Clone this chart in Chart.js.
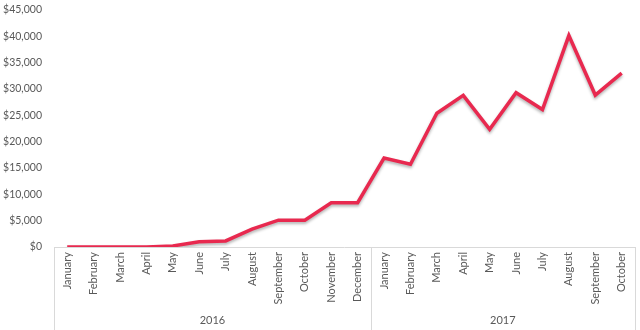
<!DOCTYPE html>
<html>
<head>
<meta charset="utf-8">
<script src="https://cdn.jsdelivr.net/npm/chart.js@4/dist/chart.umd.min.js"></script>
<style>
  html, body { margin: 0; padding: 0; background: #fff; }
  #wrap { position: relative; width: 640px; height: 330px; }
</style>
</head>
<body>
<div id="wrap"><canvas id="salesChart"></canvas></div>
<script>
const years = ['2016', '2017'];
const months2016 = ['January', 'February', 'March', 'April', 'May', 'June', 'July', 'August', 'September', 'October', 'November', 'December'];
const months2017 = ['January', 'February', 'March', 'April', 'May', 'June', 'July', 'August', 'September', 'October'];
const revenue = [0, 0, 0, 0, 200, 1000, 1150, 3400, 5100, 5100, 8400, 8400,
  16900, 15700, 25400, 28800, 22350, 29300, 26100, 40150, 28850, 33000];
const yTicks = [0, 5000, 10000, 15000, 20000, 25000, 30000, 35000, 40000, 45000];

(function () {
  const canvas = document.getElementById('salesChart');
  if (!canvas || typeof Chart === 'undefined') return;

  const labels = months2016.concat(months2017);
  const groupSizes = [months2016.length, months2017.length];
  const axisGrey = '#d9d9d9';
  const textGrey = '#595959';

  // boundaries and centres of the year groups, in category index units
  const bounds = [-0.5];
  const mids = [];
  groupSizes.forEach((n) => {
    const start = bounds[bounds.length - 1];
    mids.push(start + n / 2);
    bounds.push(start + n);
  });

  const lineShadow = {
    id: 'lineShadow',
    beforeDatasetDraw(chart) {
      const c = chart.ctx;
      c.save();
      c.shadowColor = 'rgba(0,0,0,0.3)';
      c.shadowBlur = 3;
      c.shadowOffsetY = 2;
    },
    afterDatasetDraw(chart) {
      chart.ctx.restore();
    }
  };

  const groupLines = {
    id: 'groupLines',
    afterDraw(chart) {
      const x = chart.scales.x;
      const c = chart.ctx;
      c.save();
      c.strokeStyle = axisGrey;
      c.lineWidth = 1;
      bounds.forEach((b) => {
        const px = Math.round(x.getPixelForValue(b)) + 0.5;
        c.beginPath();
        c.moveTo(px, chart.chartArea.bottom);
        c.lineTo(px, chart.height);
        c.stroke();
      });
      c.restore();
    }
  };

  new Chart(canvas.getContext('2d'), {
    type: 'line',
    data: {
      labels: labels,
      datasets: [{
        label: 'Revenue',
        data: revenue,
        borderColor: '#e8294f',
        borderWidth: 3.5,
        pointRadius: 0,
        tension: 0,
        fill: false
      }]
    },
    plugins: [lineShadow, groupLines],
    options: {
      responsive: true,
      maintainAspectRatio: false,
      animation: false,
      layout: { padding: { top: 10, right: 5, left: 0, bottom: 0 } },
      plugins: { legend: { display: false }, tooltip: { enabled: false } },
      scales: {
        x: {
          type: 'category',
          offset: true,
          afterFit: (axis) => { axis.height = 62; },
          grid: { display: false, drawTicks: false },
          border: { display: true, color: axisGrey },
          ticks: {
            color: textGrey,
            font: { family: 'Lato', size: 11 },
            minRotation: 90,
            maxRotation: 90,
            autoSkip: false,
            padding: 5
          }
        },
        year: {
          type: 'linear',
          position: 'bottom',
          min: bounds[0],
          max: bounds[bounds.length - 1],
          afterBuildTicks: (axis) => { axis.ticks = mids.map((v) => ({ value: v })); },
          afterFit: (axis) => { axis.height = 21; },
          grid: { display: false, drawTicks: false },
          border: { display: false },
          ticks: {
            color: textGrey,
            font: { family: 'Lato', size: 11 },
            maxRotation: 0,
            autoSkip: false,
            padding: 5,
            callback: (v, i) => years[i]
          }
        },
        y: {
          min: 0,
          max: 45000,
          afterBuildTicks: (axis) => { axis.ticks = yTicks.map((v) => ({ value: v })); },
          afterFit: (axis) => { axis.width = 54; },
          grid: { display: false, drawTicks: true, tickLength: 12 },
          border: { display: false },
          ticks: {
            color: textGrey,
            font: { family: 'Lato', size: 10.5 },
            padding: 0,
            callback: (v) => '$' + v.toLocaleString('en-US')
          }
        }
      }
    }
  });
})();
</script>
</body>
</html>
